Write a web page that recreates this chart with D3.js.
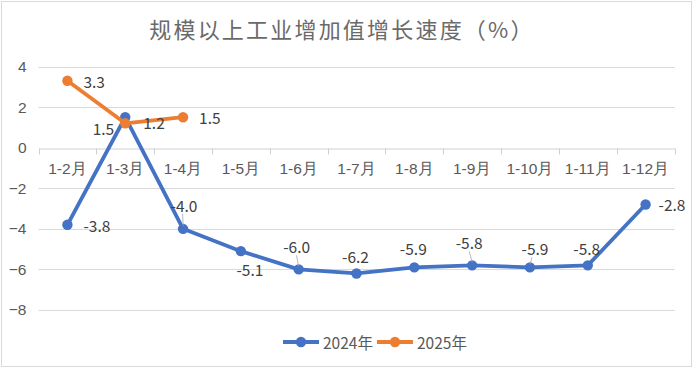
<!DOCTYPE html>
<html>
<head>
<meta charset="utf-8">
<script src="https://cdn.jsdelivr.net/npm/d3@7"></script>
<style>
  body { margin: 0; background: #fff; }
  svg { font-family: "Noto Sans CJK SC", "Noto Sans", sans-serif; }
</style>
</head>
<body>
<svg id="chart"></svg>
<script>
// data
const categories = ['1-2月', '1-3月', '1-4月', '1-5月', '1-6月', '1-7月', '1-8月', '1-9月', '1-10月', '1-11月', '1-12月'];
const values2024 = [-3.8, 1.5, -4.0, -5.1, -6.0, -6.2, -5.9, -5.8, -5.9, -5.8, -2.8];
const values2025 = [3.3, 1.2, 1.5];
const yTicks = [-8, -6, -4, -2, 0, 2, 4];
const seriesNames = ['2024年', '2025年'];

// label placement, kept apart from values: [dx, dy, anchor, leader]
const place2024 = [[16, 0, 'start'], [-11, 11, 'end'], [1, -24, 'middle', 1], [9, 18, 'middle'], [-2, -23, 'middle', 1],
  [-1, -17, 'middle'], [-1, -19, 'middle'], [-3, -23, 'middle', 1], [5, -19, 'middle', 1], [-1, -17, 'middle'], [13, 0, 'start']];
const place2025 = [[16, 0, 'start'], [18, -1, 'start'], [16, 0, 'start']];

const W = 694, H = 368;
const colors = ['#4472C4', '#ED7D31'];

const svg = d3.select('#chart').attr('width', W).attr('height', H);

svg.append('rect')
    .attr('x', 1.5).attr('y', 1.5)
    .attr('width', 690).attr('height', 365)
    .attr('fill', '#fff').attr('stroke', '#d9d9d9');

svg.append('text')
    .attr('x', 342).attr('y', 28)
    .attr('text-anchor', 'middle').attr('dominant-baseline', 'central')
    .attr('font-size', 22).attr('letter-spacing', 2.2)
    .attr('fill', '#6a6a6a')
    .text('规模以上工业增加值增长速度（%）');

const x = d3.scaleBand().domain(categories).range([38.5, 674.5]);
const y = d3.scaleLinear().domain([-8, 4]).range([310, 66.5]);

// gridlines
svg.append('g')
  .selectAll('line')
  .data(yTicks.filter(d => d !== 0))
  .join('line')
    .attr('x1', x.range()[0]).attr('x2', x.range()[1])
    .attr('y1', d => Math.round(y(d)) + 0.5).attr('y2', d => Math.round(y(d)) + 0.5)
    .attr('stroke', '#d9d9d9');

// y axis labels
const yAxis = d3.axisLeft(y).tickValues(yTicks).tickSize(0).tickPadding(12);
const yG = svg.append('g').attr('transform', `translate(${x.range()[0]},0)`).call(yAxis);
yG.select('.domain').remove();
yG.selectAll('text').attr('font-size', 15.5).attr('fill', '#595959').attr('font-family', null);

// zero axis with category labels below it
const y0 = Math.round(y(0)) + 0.5;
const xAxis = d3.axisBottom(x).tickSize(0).tickPadding(0);
const xG = svg.append('g').attr('transform', `translate(0,${y0})`).call(xAxis);
xG.select('.domain').attr('stroke', '#d0d0d0');
xG.selectAll('text').attr('font-size', 15.5).attr('fill', '#595959').attr('font-family', null)
    .attr('dy', '0').attr('y', 20).attr('dominant-baseline', 'central');
xG.selectAll('.tick line').remove();
xG.selectAll('.sep')
  .data(categories.concat(['end']))
  .join('line')
    .attr('class', 'sep')
    .attr('x1', (d, i) => Math.round(x.range()[0] + i * x.step()) + 0.5)
    .attr('x2', (d, i) => Math.round(x.range()[0] + i * x.step()) + 0.5)
    .attr('y1', 0).attr('y2', 6)
    .attr('stroke', '#d0d0d0');

const cx = d => x(d) + x.bandwidth() / 2;
const line = d3.line().x(d => cx(d.c)).y(d => y(d.v));

const series = [values2024, values2025].map((vals, s) => vals.map((v, i) => ({c: categories[i], v, s})));
const places = [place2024, place2025];

series.forEach((pts, s) => {
  const g = svg.append('g');
  g.append('path')
      .datum(pts)
      .attr('d', line)
      .attr('fill', 'none')
      .attr('stroke', colors[s])
      .attr('stroke-width', 3.8)
      .attr('stroke-linejoin', 'round');
  g.selectAll('circle')
    .data(pts)
    .join('circle')
      .attr('cx', d => cx(d.c)).attr('cy', d => y(d.v))
      .attr('r', 5.2)
      .attr('fill', colors[s]);
});

// data labels
series.forEach((pts, s) => {
  const g = svg.append('g');
  pts.forEach((d, i) => {
    const p = places[s][i];
    const px = cx(d.c), py = y(d.v);
    if (p[3]) {
      g.append('line')
          .attr('x1', px).attr('y1', py - 3)
          .attr('x2', px + p[0] * 0.6 - 1).attr('y2', py + p[1] + 9)
          .attr('stroke', '#a6a6a6').attr('stroke-width', 0.8);
    }
    g.append('text')
        .attr('x', px + p[0]).attr('y', py + p[1])
        .attr('text-anchor', p[2])
        .attr('dominant-baseline', 'central')
        .attr('font-size', 15.5)
        .attr('fill', '#404040')
        .text(d.v.toFixed(1));
  });
});

// legend
const legend = svg.append('g');
const legX = [283, 377];
seriesNames.forEach((name, s) => {
  const lg = legend.append('g').attr('transform', `translate(${legX[s]},342)`);
  lg.append('line').attr('x1', 0).attr('x2', 36).attr('stroke', colors[s]).attr('stroke-width', 3.8);
  lg.append('circle').attr('cx', 18).attr('r', 5.2).attr('fill', colors[s]);
  lg.append('text')
      .attr('x', 40).attr('dominant-baseline', 'central')
      .attr('font-size', 15.5).attr('fill', '#595959')
      .text(name);
});
</script>
</body>
</html>
